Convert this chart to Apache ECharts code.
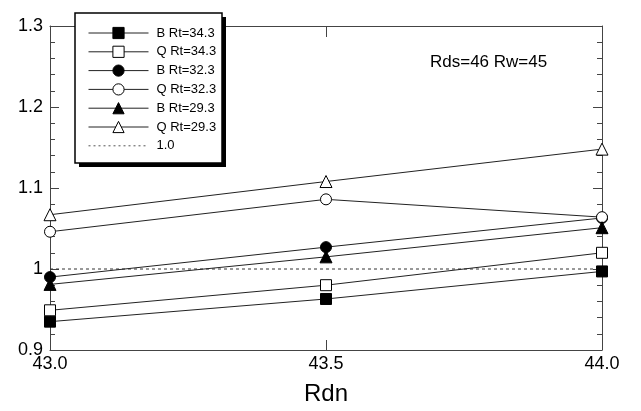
<!DOCTYPE html>
<html><head><meta charset="utf-8">
<script src="https://cdn.jsdelivr.net/npm/echarts@6/dist/echarts.min.js"></script>
<style>html,body{margin:0;padding:0;background:#fff}#c{width:641px;height:411px}</style>
</head><body><div id="c"></div>
<script>
var xValues = [43.0, 43.5, 44.0];
var seriesNames = ['B Rt=34.3', 'Q Rt=34.3', 'B Rt=32.3', 'Q Rt=32.3', 'B Rt=29.3', 'Q Rt=29.3', '1.0'];
var bRt343 = [0.935, 0.963, 0.997];
var qRt343 = [0.949, 0.980, 1.020];
var bRt323 = [0.990, 1.027, 1.063];
var qRt323 = [1.046, 1.086, 1.064];
var bRt293 = [0.981, 1.015, 1.051];
var qRt293 = [1.067, 1.108, 1.148];
var refLine = [1.0, 1.0, 1.0];
var xTicks = [43.0, 43.5, 44.0];
var yTicks = [0.9, 1.0, 1.1, 1.2, 1.3];
var annotation = 'Rds=46 Rw=45';
var xTitle = 'Rdn';

var font = 'Liberation Sans, Arial, sans-serif';
function pts(arr){ return arr.map(function(v,i){ return [xValues[i], v]; }); }
var valuesList = [bRt343, qRt343, bRt323, qRt323, bRt293, qRt293];
var symbols = ['rect','rect','circle','circle','triangle','triangle'];
var filled = [true,false,true,false,true,false];
var series = valuesList.map(function(vals, i){
  return {
    name: seriesNames[i], type: 'line', data: pts(vals),
    symbol: symbols[i], symbolSize: symbols[i]==='triangle' ? 12 : 11,
    showAllSymbol: true,
    lineStyle: {color: '#222', width: 1},
    itemStyle: {color: filled[i] ? '#000' : '#fff', borderColor: '#000', borderWidth: 1},
    emphasis: {disabled: true}, animation: false, z: 3 + i
  };
});
series.push({
  name: seriesNames[6], type: 'line', data: pts(refLine), symbol: 'none',
  lineStyle: {color: '#333', width: 1, type: [3, 3]},
  itemStyle: {color: '#333'}, z: 2, animation: false
});

var legendData = seriesNames.map(function(n, i){
  if (i === 6) return {name: n, itemStyle: {opacity: 0}, lineStyle: {color: '#555', width: 1, type: [2, 3]}};
  return {name: n};
});

var chart = echarts.init(document.getElementById('c'), null, {renderer: 'canvas'});
chart.setOption({
  animation: false,
  backgroundColor: '#fff',
  grid: {left: 50, right: 39, top: 26, bottom: 56},
  legend: {
    data: legendData,
    orient: 'vertical', left: 75, top: 13,
    itemWidth: 60, itemHeight: 14, itemGap: 4.8,
    padding: [13, 8, 9, 13],
    backgroundColor: 'transparent', borderWidth: 0,
    lineStyle: {width: 1},
    itemStyle: {borderWidth: 1},
    textStyle: {fontFamily: font, fontSize: 13, lineHeight: 14, color: '#000', padding: [0, 0, 0, 3]},
    selectedMode: false, z: 10
  },
  xAxis: [{
    type: 'value', min: 43, max: 44, interval: 0.5,
    name: xTitle, nameLocation: 'middle', nameGap: 32,
    nameTextStyle: {fontFamily: font, fontSize: 24, color: '#000'},
    axisLine: {lineStyle: {color: '#444', width: 1}},
    axisTick: {inside: true, length: 10, lineStyle: {color: '#444'}},
    axisLabel: {fontFamily: font, fontSize: 18, color: '#000', margin: 5, formatter: function(v){ return v.toFixed(1); }},
    splitLine: {show: false}
  }, {
    type: 'value', position: 'top', min: 43, max: 44, interval: 0.5,
    axisLine: {show: true, lineStyle: {color: '#444', width: 1}},
    axisTick: {inside: true, length: 11, lineStyle: {color: '#444'}},
    axisLabel: {show: false}, splitLine: {show: false}
  }],
  yAxis: [{
    type: 'value', min: 0.9, max: 1.3, interval: 0.1,
    axisLine: {show: true, lineStyle: {color: '#444', width: 1}},
    axisTick: {inside: true, length: 9, lineStyle: {color: '#444'}},
    minorTick: {show: true, splitNumber: 5, length: 5, lineStyle: {color: '#444'}},
    axisLabel: {fontFamily: font, fontSize: 18, color: '#000', margin: 7, padding: [0,0,10,0],
      formatter: function(v){ return String(Math.round(v*10)/10); }},
    splitLine: {show: false}
  }, {
    type: 'value', position: 'right', min: 0.9, max: 1.3, interval: 0.1,
    axisLine: {show: true, lineStyle: {color: '#444', width: 1}},
    axisTick: {inside: true, length: 9, lineStyle: {color: '#444'}},
    minorTick: {show: true, splitNumber: 5, length: 5, lineStyle: {color: '#444'}},
    axisLabel: {show: false}, splitLine: {show: false}
  }],
  graphic: [
    {type: 'rect', z: 8, shape: {x: 79, y: 17, width: 147, height: 150}, style: {fill: '#000'}},
    {type: 'rect', z: 9, shape: {x: 75, y: 13, width: 147, height: 150}, style: {fill: '#fff', stroke: '#000', lineWidth: 1.5}},
    {type: 'text', left: 430, top: 54,
     style: {text: annotation, fontFamily: font, fontSize: 17, fill: '#000'}}
  ],
  series: series
});
</script></body></html>
